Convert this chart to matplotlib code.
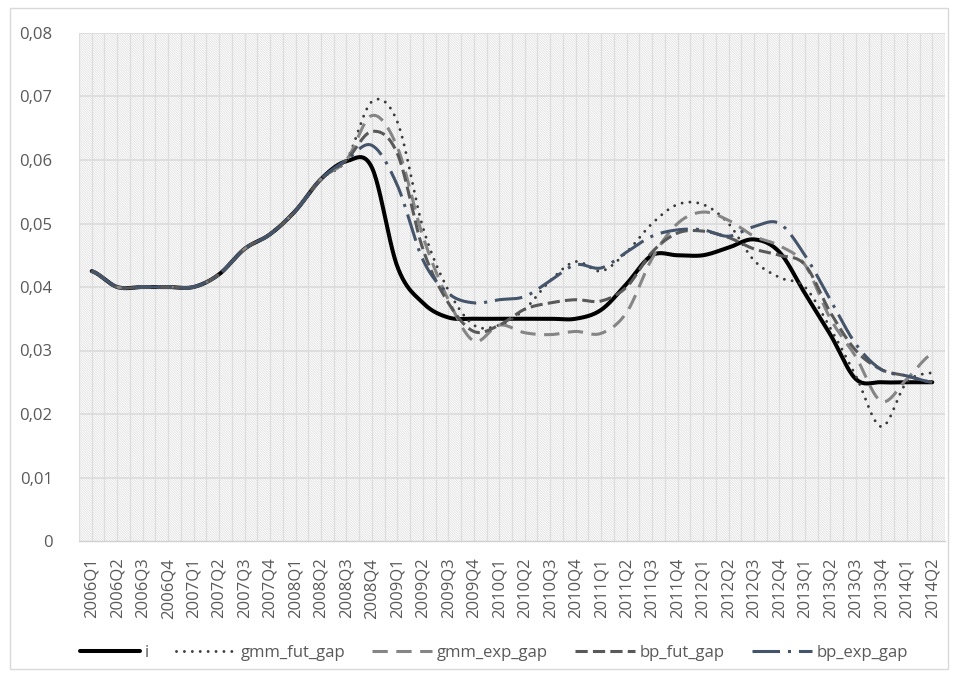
import numpy as np
import matplotlib
matplotlib.use("Agg")
import matplotlib.pyplot as plt
from matplotlib.patches import Rectangle

quarters = ["2006Q1", "2006Q2", "2006Q3", "2006Q4", "2007Q1", "2007Q2", "2007Q3", "2007Q4",
            "2008Q1", "2008Q2", "2008Q3", "2008Q4", "2009Q1", "2009Q2", "2009Q3", "2009Q4",
            "2010Q1", "2010Q2", "2010Q3", "2010Q4", "2011Q1", "2011Q2", "2011Q3", "2011Q4",
            "2012Q1", "2012Q2", "2012Q3", "2012Q4", "2013Q1", "2013Q2", "2013Q3", "2013Q4",
            "2014Q1", "2014Q2"]

common = [0.0425, 0.0400, 0.0400, 0.0400, 0.0400, 0.0420, 0.0460, 0.0483, 0.0520, 0.0570]

i_rate = common + [0.0598, 0.0588, 0.0432, 0.0375, 0.0352, 0.0350, 0.0350, 0.0350, 0.0350, 0.0350,
                   0.0364, 0.0405, 0.0450, 0.0450, 0.0450, 0.0462, 0.0475, 0.0455, 0.0390, 0.0325,
                   0.0255, 0.0250, 0.0250, 0.0250]
gmm_fut_gap = common + [0.0600, 0.0692, 0.0660, 0.0494, 0.0395, 0.0340, 0.0340, 0.0365, 0.0410, 0.0440,
                        0.0425, 0.0455, 0.0500, 0.0530, 0.0530, 0.0500, 0.0442, 0.0415, 0.0400, 0.0335,
                        0.0260, 0.0180, 0.0250, 0.0265]
gmm_exp_gap = common + [0.0600, 0.0670, 0.0620, 0.0480, 0.0380, 0.0315, 0.0340, 0.0328, 0.0325, 0.0330,
                        0.0327, 0.0360, 0.0445, 0.0500, 0.0518, 0.0505, 0.0480, 0.0465, 0.0435, 0.0350,
                        0.0290, 0.0220, 0.0255, 0.0295]
bp_fut_gap = common + [0.0600, 0.0645, 0.0610, 0.0460, 0.0375, 0.0330, 0.0340, 0.0365, 0.0375, 0.0380,
                       0.0378, 0.0400, 0.0455, 0.0485, 0.0488, 0.0478, 0.0460, 0.0450, 0.0435, 0.0360,
                       0.0300, 0.0270, 0.0260, 0.0250]
bp_exp_gap = common + [0.0600, 0.0623, 0.0560, 0.0443, 0.0390, 0.0375, 0.0380, 0.0385, 0.0410, 0.0435,
                       0.0430, 0.0455, 0.0480, 0.0490, 0.0490, 0.0480, 0.0495, 0.0500, 0.0450, 0.0380,
                       0.0310, 0.0270, 0.0260, 0.0250]

series_names = ["i", "gmm_fut_gap", "gmm_exp_gap", "bp_fut_gap", "bp_exp_gap"]
series_values = [i_rate, gmm_fut_gap, gmm_exp_gap, bp_fut_gap, bp_exp_gap]
yticks = [0, 0.01, 0.02, 0.03, 0.04, 0.05, 0.06, 0.07, 0.08]
ytick_labels = ["0", "0,01", "0,02", "0,03", "0,04", "0,05", "0,06", "0,07", "0,08"]

styles = [
    dict(color="#000000", lw=2.9, ls="-"),
    dict(color="#3a3a3a", lw=2.1, ls=(0, (0.01, 2.7)), dash_capstyle="round"),
    dict(color="#858585", lw=2.2, ls=(0, (5.0, 2.8))),
    dict(color="#595959", lw=2.2, ls=(0, (4.0, 1.7))),
    dict(color="#44546a", lw=2.2, ls=(0, (9.0, 2.6, 1.0, 2.6))),
]


def smooth(y, n=24):
    """Excel-like smoothed line (cubic Bezier through the points)."""
    y = np.asarray(y, dtype=float)
    m = len(y)
    yp = np.concatenate([[y[0]], y, [y[-1]]])
    xs, ys = [], []
    for k in range(m - 1):
        p0, p1, p2, p3 = yp[k], yp[k + 1], yp[k + 2], yp[k + 3]
        c1 = p1 + (p2 - p0) / 6.0
        c2 = p2 - (p3 - p1) / 6.0
        t = np.linspace(0, 1, n, endpoint=(k == m - 2))
        b = (1 - t) ** 3 * p1 + 3 * (1 - t) ** 2 * t * c1 + 3 * (1 - t) * t ** 2 * c2 + t ** 3 * p2
        xs.append(k + t)
        ys.append(b)
    return np.concatenate(xs), np.concatenate(ys)


plt.rcParams["font.family"] = ["Open Sans", "DejaVu Sans"]
plt.rcParams["hatch.linewidth"] = 0.45
fig = plt.figure(figsize=(9.58, 6.79), dpi=100)
W, H = 958, 679
ax = fig.add_axes([79 / W, 1 - 541 / H, (945 - 79) / W, (541 - 33) / H])

# chart area border
fig.patches.append(Rectangle((10 / W, 1 - 669 / H), 938 / W, (669 - 8) / H, transform=fig.transFigure,
                             fill=False, edgecolor="#d9d9d9", lw=1.0))

# hatched plot area
ax.patch.set_facecolor("white")
ax.patch.set_hatch("\\" * 14)
ax.patch.set_edgecolor("#d8d8d8")

n = len(quarters)
ax.set_xlim(-0.5, n - 0.5)
ax.set_ylim(0, 0.08)

for v in yticks[1:]:
    ax.axhline(v, color="#d9d9d9", lw=1.1, zorder=1)
for xv in np.arange(-0.5, n, 0.5):
    ax.axvline(xv, color="#dddddd", lw=0.9, zorder=1)

for name, vals, st in zip(series_names, series_values, styles):
    xs, ys = smooth(vals)
    ax.plot(xs, ys, label=name, zorder=3, solid_capstyle="round", **st)

ax.set_yticks(yticks)
ax.set_yticklabels(ytick_labels)
ax.set_xticks(np.arange(n))
ax.set_xticklabels(quarters, rotation=90)
ax.tick_params(axis="both", length=0, labelsize=12, labelcolor="#595959")
ax.tick_params(axis="y", pad=19)
ax.tick_params(axis="x", pad=12)
for s in ["top", "right", "left"]:
    ax.spines[s].set_visible(False)
ax.spines["bottom"].set_color("#d0d0d0")
ax.spines["bottom"].set_linewidth(1.0)

leg = fig.legend(loc="center", bbox_to_anchor=(494 / W, 1 - 653 / H), ncol=5, frameon=False,
                 fontsize=12, handlelength=3.6, handletextpad=0.3, columnspacing=1.6)
for t in leg.get_texts():
    t.set_color("#595959")

fig.savefig("out.png", dpi=100, facecolor="white")
